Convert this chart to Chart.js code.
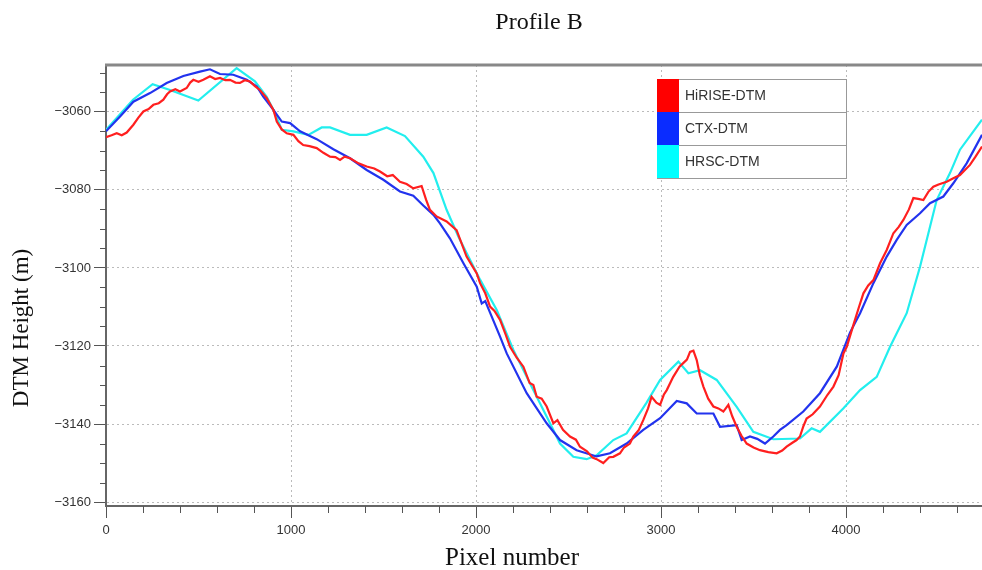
<!DOCTYPE html>
<html>
<head>
<meta charset="utf-8">
<script src="https://cdn.jsdelivr.net/npm/chart.js@4.4.0/dist/chart.umd.min.js"></script>
<style>
  html, body { margin: 0; padding: 0; background: #fff; }
  #wrap { width: 982px; height: 570px; position: relative; }
</style>
</head>
<body>
<div id="wrap"><canvas id="profileB"></canvas></div>
<script>
// Profile B - DTM heights
var hiriseX = [0, 30, 58, 85, 112, 148, 175, 202, 230, 256, 285, 310, 330, 346, 375, 400, 436, 455, 472, 500,
  526, 562, 590, 616, 645, 670, 700, 724, 750, 778, 805, 832, 869, 905, 923, 950, 977, 1013, 1040, 1066,
  1100, 1139, 1175, 1211, 1240, 1265, 1290, 1319, 1365, 1409, 1450, 1481, 1520, 1550, 1589, 1625, 1661, 1706, 1730, 1751,
  1787, 1841, 1895, 1949, 2004, 2022, 2050, 2076, 2100, 2130, 2160, 2184, 2220, 2256, 2290, 2310, 2328, 2355, 2382, 2418,
  2440, 2470, 2508, 2540, 2562, 2600, 2630, 2652, 2688, 2720, 2742, 2778, 2800, 2832, 2850, 2880, 2904, 2930, 2949, 2975,
  2995, 3015, 3031, 3066, 3100, 3120, 3140, 3157, 3175, 3193, 3210, 3229, 3255, 3283, 3310, 3337, 3364, 3385, 3409, 3435,
  3463, 3500, 3535, 3580, 3625, 3655, 3679, 3710, 3733, 3751, 3770, 3787, 3820, 3859, 3900, 3932, 3960, 3986, 4004, 4040,
  4070, 4094, 4120, 4148, 4184, 4220, 4256, 4285, 4310, 4340, 4364, 4390, 4418, 4445, 4472, 4500, 4544, 4580, 4616, 4670,
  4700, 4735];
var hiriseY = [-3066.5, -3066, -3065.5, -3066, -3065.3, -3063.3, -3061.5, -3059.9, -3059.3, -3058.2, -3057.8, -3056.9, -3055.5, -3054.8, -3054.2, -3054.8, -3053.9, -3052.5, -3051.8, -3052.3,
  -3051.8, -3050.9, -3051.6, -3051.3, -3051.9, -3051.8, -3052.5, -3052.6, -3051.9, -3052.2, -3053.4, -3054.4, -3056.5, -3059.5, -3062.5, -3064.5, -3065.5, -3065.9, -3067.5, -3068.5,
  -3068.8, -3069.3, -3070.5, -3071.5, -3071.6, -3072.3, -3071.5, -3071.9, -3073.2, -3074, -3074.5, -3075.3, -3076.5, -3076.2, -3077.9, -3078.5, -3079.6, -3079, -3082.5, -3085.1,
  -3086.8, -3088.1, -3090.3, -3097.1, -3101.4, -3103.9, -3106.5, -3109.9, -3111, -3113.3, -3117, -3120.2, -3123, -3125.3, -3129.5, -3130, -3133, -3133.5, -3135.5, -3139.8,
  -3139, -3141.5, -3143.2, -3144, -3145.8, -3147, -3148.6, -3149, -3150, -3148.5, -3148.4, -3147.5, -3146, -3145, -3143.2, -3141.5, -3139, -3136, -3133, -3134.5,
  -3135.1, -3132.5, -3131.3, -3127.9, -3125.3, -3124.4, -3123.5, -3121.5, -3121.2, -3123.6, -3127.5, -3130.4, -3133.5, -3135.5, -3136, -3136.8, -3135.1, -3138, -3140.7, -3143,
  -3145, -3146, -3146.7, -3147.2, -3147.5, -3146.8, -3145.8, -3144.8, -3144.1, -3143.2, -3140.5, -3138.6, -3137.5, -3135.5, -3132.5, -3130.4, -3127.5, -3121.9, -3120.2, -3114.6,
  -3110, -3106.5, -3104.5, -3103.1, -3098.8, -3095.4, -3091.1, -3089.5, -3087.7, -3085, -3082.1, -3082.3, -3082.6, -3080.5, -3079.2, -3078.6, -3077.9, -3077, -3076.2, -3073.6,
  -3071.5, -3068.9];

var ctxX = [0, 76, 148, 238, 328, 418, 508, 562, 616, 688, 761, 815, 850, 905, 950, 995, 1049, 1139, 1229, 1319,
  1409, 1499, 1589, 1661, 1715, 1770, 1805, 1859, 1932, 2004, 2031, 2050, 2130, 2166, 2274, 2382, 2454, 2544, 2652, 2724,
  2814, 2904, 2995, 3085, 3139, 3193, 3283, 3319, 3409, 3436, 3481, 3520, 3562, 3607, 3643, 3679, 3769, 3859, 3950, 4022,
  4076, 4148, 4220, 4274, 4328, 4400, 4454, 4526, 4580, 4652, 4735];
var ctxY = [-3065, -3061.2, -3057.4, -3055.2, -3052.6, -3050.8, -3049.7, -3049.1, -3050.3, -3050.5, -3051.8, -3053.5, -3056.1, -3059.5, -3062.5, -3062.9, -3065, -3067, -3069.6, -3071.9,
  -3074.9, -3077.4, -3080.4, -3081.5, -3084, -3086.4, -3088.6, -3092.4, -3098.8, -3104.8, -3109.1, -3108.5, -3117.6, -3121.9, -3132.1, -3139.8, -3144.1, -3146.7, -3148.3, -3147.5,
  -3145, -3141.5, -3138.5, -3134.1, -3134.7, -3137.3, -3137.3, -3140.7, -3140.3, -3144.1, -3143.2, -3143.8, -3145, -3143.2, -3141.5, -3140.3, -3136.8, -3132.1, -3125.3, -3116.5,
  -3111.6, -3103.9, -3097.1, -3092.8, -3089, -3086, -3083.4, -3081.7, -3078.3, -3073.2, -3065.9];

var hrscX = [0, 146, 252, 346, 499, 706, 805, 868, 905, 950, 1013, 1094, 1166, 1211, 1319, 1409, 1517, 1616, 1715, 1770,
  1841, 1905, 2022, 2112, 2202, 2292, 2400, 2454, 2526, 2598, 2652, 2742, 2814, 2922, 2995, 3094, 3148, 3211, 3301, 3409,
  3499, 3607, 3751, 3814, 3859, 3985, 4076, 4166, 4238, 4328, 4400, 4490, 4562, 4616, 4735];
var hrscY = [-3064.6, -3056.9, -3052.9, -3054.4, -3057.1, -3048.8, -3052.2, -3056.1, -3059.5, -3064.6, -3065, -3065.9, -3064, -3064, -3065.9, -3065.9, -3064, -3066.2, -3071.5, -3075.7,
  -3085.1, -3092, -3103, -3110.8, -3121, -3129.6, -3139.8, -3145, -3148.4, -3149, -3148, -3144.1, -3142.4, -3134.5, -3128.7, -3124, -3127, -3126.2, -3128.7, -3135.6,
  -3142, -3143.9, -3143.7, -3141.1, -3142, -3136, -3131.3, -3127.9, -3120.2, -3111.6, -3099.7, -3082.6, -3075.7, -3069.7, -3062];

var xTickValues = [0, 1000, 2000, 3000, 4000];

var seriesNames = ['HiRISE-DTM', 'CTX-DTM', 'HRSC-DTM'];
var lineColors = ['#ff1f1f', '#2233ee', '#22eeee'];
var swatchColors = ['#ff0000', '#0a2cff', '#00ffff'];

function toPoints(xs, ys) {
  var pts = [];
  for (var i = 0; i < xs.length; i++) pts.push({x: xs[i], y: ys[i]});
  return pts;
}

var sans = '"Liberation Sans", Arial, sans-serif';
var serif = '"Liberation Serif", "Times New Roman", serif';

// titles, top frame, minor ticks and the boxed legend
var extras = {
  id: 'extras',
  afterDraw: function(chart) {
    var c = chart.ctx, a = chart.chartArea;
    var xs = chart.scales.x, ys = chart.scales.y;
    c.save();
    // top frame
    c.strokeStyle = '#888';
    c.lineWidth = 3;
    c.beginPath(); c.moveTo(a.left - 1, a.top); c.lineTo(a.right, a.top); c.stroke();
    // minor ticks
    c.strokeStyle = '#555';
    c.lineWidth = 1;
    c.beginPath();
    for (var v = 200; v < 4735; v += 200) {
      if (v % 1000 === 0) continue;
      var px = Math.round(xs.getPixelForValue(v)) + 0.5;
      c.moveTo(px, a.bottom); c.lineTo(px, a.bottom + 7);
    }
    for (var w = -3155; w < -3048; w += 5) {
      if (w % 20 === 0) continue;
      var py = Math.round(ys.getPixelForValue(w)) + 0.5;
      c.moveTo(a.left - 6, py); c.lineTo(a.left, py);
    }
    c.stroke();
    // titles
    c.fillStyle = '#111';
    c.textAlign = 'center';
    c.textBaseline = 'middle';
    c.font = '24px ' + serif;
    c.fillText('Profile B', 539, 23);
    c.font = '25px ' + serif;
    c.fillText('Pixel number', 512, 558);
    c.save();
    c.translate(22, 328);
    c.rotate(-Math.PI / 2);
    c.font = '23px ' + serif;
    c.fillText('DTM Height (m)', 0, 0);
    c.restore();
    // legend
    var lx = 657, ly = 79, lw = 189, rh = 33;
    c.fillStyle = '#fff';
    c.fillRect(lx, ly, lw, rh * 3);
    c.strokeStyle = '#999';
    c.lineWidth = 1;
    c.strokeRect(lx + 0.5, ly + 0.5, lw, rh * 3);
    for (var i = 0; i < seriesNames.length; i++) {
      var ry = ly + i * rh;
      c.fillStyle = swatchColors[i];
      c.fillRect(lx, ry, 22, rh);
      if (i > 0) {
        c.beginPath(); c.moveTo(lx + 22, ry + 0.5); c.lineTo(lx + lw, ry + 0.5); c.stroke();
      }
      c.fillStyle = '#333';
      c.textAlign = 'left';
      c.font = '14px ' + sans;
      c.fillText(seriesNames[i], lx + 28, ry + rh / 2 + 1);
    }
    c.restore();
  }
};

var datasets = [];
var xsAll = [hiriseX, ctxX, hrscX], ysAll = [hiriseY, ctxY, hrscY];
for (var k = 0; k < seriesNames.length; k++) {
  datasets.push({
    label: seriesNames[k],
    data: toPoints(xsAll[k], ysAll[k]),
    borderColor: lineColors[k],
    backgroundColor: lineColors[k],
    borderWidth: 2.2,
    pointRadius: 0,
    tension: 0,
    fill: false
  });
}

new Chart(document.getElementById('profileB'), {
  type: 'line',
  data: {datasets: datasets},
  plugins: [extras],
  options: {
    responsive: true,
    maintainAspectRatio: false,
    animation: false,
    layout: {padding: {top: 65, right: 0, left: 0, bottom: 0}},
    plugins: {legend: {display: false}, title: {display: false}, tooltip: {enabled: false}},
    scales: {
      x: {
        type: 'linear',
        min: 0,
        max: 4735,
        afterFit: function(s) { s.height = 64; },
        afterBuildTicks: function(s) {
          s.ticks = xTickValues.map(function(v) { return {value: v}; });
        },
        ticks: {
          maxRotation: 0,
          autoSkip: false,
          padding: 5,
          color: '#333',
          font: {family: sans, size: 13},
          callback: function(v) { return String(v); }
        },
        grid: {color: '#bbb', lineWidth: 1, tickColor: '#555', tickLength: 12},
        border: {color: '#666', width: 2, dash: [2, 3]}
      },
      y: {
        type: 'linear',
        min: -3161,
        max: -3048,
        afterFit: function(s) { s.width = 106; },
        ticks: {
          stepSize: 20,
          includeBounds: false,
          padding: 3,
          color: '#333',
          font: {family: sans, size: 13},
          callback: function(v) { return v < 0 ? '\u2212' + Math.abs(v) : String(v); }
        },
        grid: {color: '#bbb', lineWidth: 1, tickColor: '#555', tickLength: 12},
        border: {color: '#666', width: 2, dash: [2, 3]}
      }
    }
  }
});
</script>
</body>
</html>
